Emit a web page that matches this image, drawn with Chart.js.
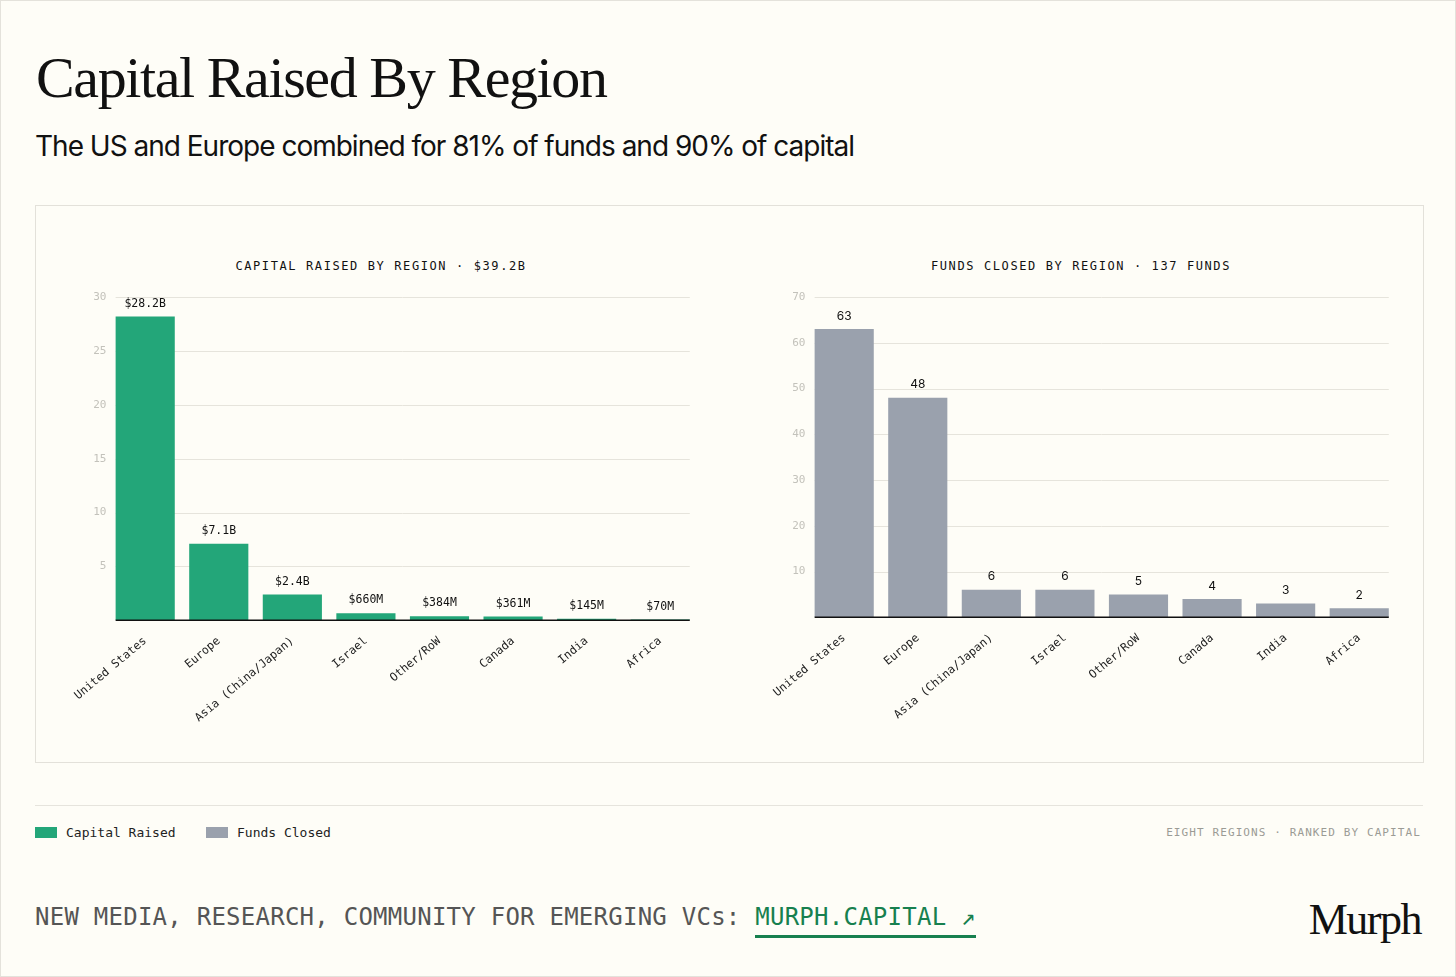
<!DOCTYPE html>
<html>
<head>
<meta charset="utf-8">
<script src="https://cdn.jsdelivr.net/npm/chart.js@4.4.1/dist/chart.umd.min.js"></script>
<style>
  html, body { margin: 0; padding: 0; }
  body {
    width: 1456px; height: 977px; position: relative; overflow: hidden;
    background: #fefdf7; box-sizing: border-box; border: 1px solid #e4e2db;
    font-family: Inter, sans-serif;
  }
  .abs { position: absolute; }
  h1 {
    position: absolute; left: 35px; top: 43px; margin: 0;
    font: 400 58px "Liberation Serif", serif; letter-spacing: -1.4px; color: #111;
  }
  .sub {
    left: 34px; top: 128px; font: 400 28px Inter, sans-serif; letter-spacing: -1px; color: #111;
  }
  .card {
    left: 34px; top: 204px; width: 1389px; height: 558px;
    box-sizing: border-box; border: 1px solid #e3e1da;
  }
  .ctitle {
    font: 400 12px "DejaVu Sans Mono", monospace; letter-spacing: 1.6px; color: #111;
    text-align: center; width: 620px; top: 258px;
  }
  .rule { left: 34px; top: 804px; width: 1388px; height: 1px; background: #e6e4dd; }
  .leg { top: 824px; font: 400 13px "DejaVu Sans Mono", monospace; color: #222; }
  .sw { display: inline-block; width: 22px; height: 11px; vertical-align: -1px; margin-right: 9px; }
  .note {
    right: 34px; top: 825px; font: 400 11px "DejaVu Sans Mono", monospace;
    letter-spacing: 1.1px; color: #9b9b95;
  }
  .foot { left: 34px; top: 902px; font: 400 24px "DejaVu Sans Mono", monospace; letter-spacing: 0.25px; color: #555; white-space: pre; }
  .foot span { color: #17804f; border-bottom: 3px solid #17804f; padding-bottom: 4px; }
  .logo { right: 34px; top: 893px; font: 400 44px "Liberation Serif", serif; letter-spacing: -1.5px; color: #111; }
</style>
</head>
<body>
<h1>Capital Raised By Region</h1>
<div class="abs sub">The US and Europe combined for 81% of funds and 90% of capital</div>
<div class="abs card"></div>

<div class="abs ctitle" style="left:70px">CAPITAL RAISED BY REGION · $39.2B</div>
<div class="abs ctitle" style="left:770px">FUNDS CLOSED BY REGION · 137 FUNDS</div>
<div class="abs" style="left:67px; top:284px; width:633px; height:446px"><canvas id="capital"></canvas></div>
<div class="abs" style="left:766px; top:284px; width:633px; height:443px"><canvas id="funds"></canvas></div>

<div class="abs rule"></div>
<div class="abs leg" style="left:34px"><span class="sw" style="background:#23a679"></span>Capital Raised</div>
<div class="abs leg" style="left:205px"><span class="sw" style="background:#9aa1ad"></span>Funds Closed</div>
<div class="abs note">EIGHT REGIONS · RANKED BY CAPITAL</div>

<div class="abs foot">NEW MEDIA, RESEARCH, COMMUNITY FOR EMERGING VCs: <span>MURPH.CAPITAL ↗</span></div>
<div class="abs logo">Murph</div>

<script>
/* ─── Data ────────────────────────────────────────────── */
const REGIONS = ['United States', 'Europe', 'Asia (China/Japan)', 'Israel', 'Other/RoW', 'Canada', 'India', 'Africa'];
const CAPITAL_B = [28.2, 7.1, 2.4, 0.66, 0.384, 0.361, 0.145, 0.07];
const CAPITAL_LABELS = ['$28.2B', '$7.1B', '$2.4B', '$660M', '$384M', '$361M', '$145M', '$70M'];
const FUNDS = [63, 48, 6, 6, 5, 4, 3, 2];
const FUNDS_LABELS = ['63', '48', '6', '6', '5', '4', '3', '2'];
const CAPITAL_TICKS = [0, 5, 10, 15, 20, 25, 30];
const FUNDS_TICKS = [0, 10, 20, 30, 40, 50, 60, 70];

const GREEN = '#23a679';
const GRAY = '#9aa1ad';
const GRID = '#e6e4dc';
const MONO = "'DejaVu Sans Mono', monospace";

/* ─── Grid lines spanning only the bars ───────────────── */
// the reference's grid and baseline run from the first bar's left edge to the last bar's right edge
function barSpan(chart) {
  const bars = chart.getDatasetMeta(0).data;
  const last = bars[bars.length - 1];
  return [bars[0].x - bars[0].width / 2, last.x + last.width / 2];
}
const barGrid = {
  id: 'barGrid',
  beforeDatasetsDraw(chart) {
    const { ctx } = chart;
    const y = chart.scales.y;
    const [x0, x1] = barSpan(chart);
    ctx.save();
    ctx.strokeStyle = GRID; ctx.lineWidth = 1;
    y.ticks.forEach(t => {
      if (t.value === 0) return;
      const py = Math.round(y.getPixelForValue(t.value)) + 0.5;
      ctx.beginPath(); ctx.moveTo(x0, py); ctx.lineTo(x1, py); ctx.stroke();
    });
    ctx.restore();
  },
  afterDatasetsDraw(chart) {
    const { ctx } = chart;
    const [x0, x1] = barSpan(chart);
    const py = chart.scales.y.getPixelForValue(0);
    ctx.save();
    ctx.strokeStyle = '#111'; ctx.lineWidth = 1.5;
    ctx.beginPath(); ctx.moveTo(x0, py); ctx.lineTo(x1, py); ctx.stroke();
    ctx.restore();
  }
};

/* ─── Value labels above bars ─────────────────────────── */
const valueLabels = {
  id: 'valueLabels',
  afterDatasetsDraw(chart, args, opts) {
    const { ctx } = chart;
    const meta = chart.getDatasetMeta(0);
    ctx.save();
    ctx.font = opts.font;
    ctx.fillStyle = '#111';
    ctx.textAlign = 'center';
    ctx.textBaseline = 'bottom';
    meta.data.forEach((bar, i) => ctx.fillText(opts.labels[i], bar.x, bar.y - 7));
    ctx.restore();
  }
};

function makeChart(id, values, labels, color, max, ticks, labelFont) {
  return new Chart(document.getElementById(id), {
    type: 'bar',
    data: {
      labels: REGIONS,
      datasets: [{ data: values, backgroundColor: color, borderWidth: 0,
        categoryPercentage: 1, barPercentage: 0.804 }]
    },
    plugins: [barGrid, valueLabels],
    options: {
      responsive: true, maintainAspectRatio: false, animation: false,
      layout: { padding: { top: 12, right: 4, left: 0, bottom: 0 } },
      plugins: {
        legend: { display: false }, tooltip: { enabled: false },
        valueLabels: { labels, font: labelFont }
      },
      scales: {
        x: {
          grid: { display: false },
          border: { display: false },
          ticks: { color: '#222', font: { family: MONO, size: 11.5 }, maxRotation: 40, minRotation: 40, padding: 6 }
        },
        y: {
          min: 0, max,
          afterFit: axis => { axis.width = 36; },
          afterBuildTicks: axis => { axis.ticks = ticks.map(v => ({ value: v })); },
          grid: { display: false, tickLength: 0 },
          border: { display: false },
          ticks: { color: '#c3c2bb', font: { family: MONO, size: 11 }, padding: 2,
            callback: v => v === 0 ? '' : v }
        }
      }
    }
  });
}

makeChart('capital', CAPITAL_B, CAPITAL_LABELS, GREEN, 30, CAPITAL_TICKS, "11.5px 'DejaVu Sans Mono', monospace");
makeChart('funds', FUNDS, FUNDS_LABELS, GRAY, 70, FUNDS_TICKS, "12px Inter, sans-serif");
</script>
</body>
</html>
